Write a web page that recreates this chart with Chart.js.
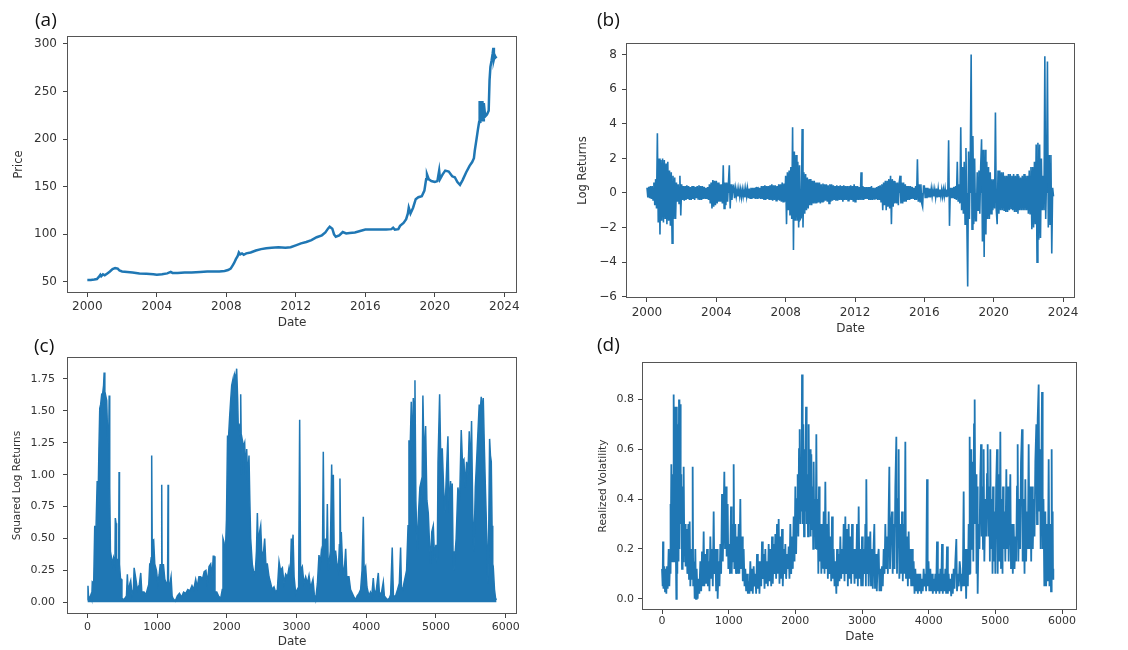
<!DOCTYPE html>
<html>
<head>
<meta charset="utf-8">
<script src="https://cdn.jsdelivr.net/npm/chart.js@4.4.1/dist/chart.umd.min.js"></script>
<style>
html, body { margin: 0; padding: 0; background: #fff; }
#wrap { position: relative; width: 1128px; height: 650px; overflow: hidden; background: #fff; }
#wrap canvas { position: absolute; left: 0; top: 0; }
.tag { position: absolute; font-family: "Open Sans", "Liberation Sans", sans-serif; font-size: 19px; line-height: 1; color: #111; }
</style>
</head>
<body>
<div id="wrap">
  <canvas id="chartA" width="1128" height="650"></canvas>
  <canvas id="chartB" width="1128" height="650"></canvas>
  <canvas id="chartC" width="1128" height="650"></canvas>
  <canvas id="chartD" width="1128" height="650"></canvas>
  <div class="tag" style="left:35px;top:10px;">(a)</div>
  <div class="tag" style="left:597px;top:10px;">(b)</div>
  <div class="tag" style="left:34px;top:336px;">(c)</div>
  <div class="tag" style="left:597px;top:335px;">(d)</div>
</div>
<script>
// (a) price
var priceDates = [
  2000.0, 2000.2, 2000.4, 2000.55, 2000.65, 2000.75, 2000.8, 2000.9, 2001.0, 2001.15,
  2001.3, 2001.45, 2001.6, 2001.75, 2001.85, 2002.0, 2002.3, 2002.6, 2003.0, 2003.4,
  2003.8, 2004.0, 2004.3, 2004.6, 2004.8, 2004.9, 2005.2, 2005.6, 2006.0, 2006.5,
  2006.9, 2007.2, 2007.6, 2007.9, 2008.1, 2008.25, 2008.35, 2008.45, 2008.55, 2008.65,
  2008.72, 2008.8, 2008.9, 2009.0, 2009.15, 2009.4, 2009.7, 2010.0, 2010.3, 2010.6,
  2011.0, 2011.4, 2011.7, 2012.0, 2012.3, 2012.6, 2012.9, 2013.2, 2013.5, 2013.7,
  2013.85, 2013.95, 2014.1, 2014.2, 2014.3, 2014.5, 2014.7, 2014.9, 2015.1, 2015.4,
  2015.7, 2016.0, 2016.4, 2016.8, 2017.2, 2017.5, 2017.6, 2017.7, 2017.9, 2018.0,
  2018.2, 2018.35, 2018.45, 2018.5, 2018.6, 2018.75, 2018.9, 2019.05, 2019.25, 2019.4,
  2019.5, 2019.55, 2019.65, 2019.8, 2020.0, 2020.15, 2020.25, 2020.3, 2020.45, 2020.6,
  2020.8, 2021.0, 2021.15, 2021.3, 2021.45, 2021.6, 2021.8, 2022.0, 2022.15, 2022.25,
  2022.3, 2022.4, 2022.48, 2022.55, 2022.58, 2022.62, 2022.66, 2022.7, 2022.74, 2022.78,
  2022.82, 2022.9, 2023.0, 2023.1, 2023.15, 2023.2, 2023.27, 2023.33, 2023.37, 2023.4,
  2023.45, 2023.5, 2023.56
];
var priceValues = [
  52, 52, 52.5, 53, 55, 57.5, 56, 58, 57, 59,
  61, 63.5, 64.5, 64, 62, 61, 60.5, 60, 59, 58.5,
  58, 57.5, 58, 59, 60.5, 59.5, 59.5, 60, 60, 60.5,
  61, 61, 61, 61.5, 62.5, 64, 67, 70, 74, 77,
  81, 79, 80, 78.5, 80, 81, 83, 84.5, 85.5, 86,
  86.5, 86, 86.5, 88.5, 90.5, 92, 94, 97, 99, 102,
  106, 108, 106, 100, 97.5, 99, 102.5, 101, 101.5, 102,
  103.5, 105, 105, 105, 105, 105.5, 107, 105, 105.5, 109,
  112, 116, 122, 128, 122, 128, 137, 139, 140, 146,
  158, 163, 158, 156, 155, 156, 167, 158, 163, 167,
  166, 161, 160, 155, 152, 157, 165, 172, 176, 180,
  188, 200, 210, 218, 240, 217, 240, 219, 240, 220,
  238, 224, 226, 230, 262, 276, 283, 290, 296, 284,
  288, 286, 287
];

// (b) log returns, one row per year
var retDates = [
  2000.00, 2000.05, 2000.10, 2000.15, 2000.20, 2000.25, 2000.30, 2000.35, 2000.40, 2000.45, 2000.50, 2000.55, 2000.60, 2000.65, 2000.70, 2000.75, 2000.80, 2000.85, 2000.90, 2000.95,
  2001.00, 2001.05, 2001.10, 2001.15, 2001.20, 2001.25, 2001.30, 2001.35, 2001.40, 2001.45, 2001.50, 2001.55, 2001.60, 2001.65, 2001.70, 2001.75, 2001.80, 2001.85, 2001.90, 2001.95,
  2002.00, 2002.05, 2002.10, 2002.15, 2002.20, 2002.25, 2002.30, 2002.35, 2002.40, 2002.45, 2002.50, 2002.55, 2002.60, 2002.65, 2002.70, 2002.75, 2002.80, 2002.85, 2002.90, 2002.95,
  2003.00, 2003.05, 2003.10, 2003.15, 2003.20, 2003.25, 2003.30, 2003.35, 2003.40, 2003.45, 2003.50, 2003.55, 2003.60, 2003.65, 2003.70, 2003.75, 2003.80, 2003.85, 2003.90, 2003.95,
  2004.00, 2004.05, 2004.10, 2004.15, 2004.20, 2004.25, 2004.30, 2004.35, 2004.40, 2004.45, 2004.50, 2004.55, 2004.60, 2004.65, 2004.70, 2004.75, 2004.80, 2004.85, 2004.90, 2004.95,
  2005.00, 2005.05, 2005.10, 2005.15, 2005.20, 2005.25, 2005.30, 2005.35, 2005.40, 2005.45, 2005.50, 2005.55, 2005.60, 2005.65, 2005.70, 2005.75, 2005.80, 2005.85, 2005.90, 2005.95,
  2006.00, 2006.05, 2006.10, 2006.15, 2006.20, 2006.25, 2006.30, 2006.35, 2006.40, 2006.45, 2006.50, 2006.55, 2006.60, 2006.65, 2006.70, 2006.75, 2006.80, 2006.85, 2006.90, 2006.95,
  2007.00, 2007.05, 2007.10, 2007.15, 2007.20, 2007.25, 2007.30, 2007.35, 2007.40, 2007.45, 2007.50, 2007.55, 2007.60, 2007.65, 2007.70, 2007.75, 2007.80, 2007.85, 2007.90, 2007.95,
  2008.00, 2008.05, 2008.10, 2008.15, 2008.20, 2008.25, 2008.30, 2008.35, 2008.40, 2008.45, 2008.50, 2008.55, 2008.60, 2008.65, 2008.70, 2008.75, 2008.80, 2008.85, 2008.90, 2008.95,
  2009.00, 2009.05, 2009.10, 2009.15, 2009.20, 2009.25, 2009.30, 2009.35, 2009.40, 2009.45, 2009.50, 2009.55, 2009.60, 2009.65, 2009.70, 2009.75, 2009.80, 2009.85, 2009.90, 2009.95,
  2010.00, 2010.05, 2010.10, 2010.15, 2010.20, 2010.25, 2010.30, 2010.35, 2010.40, 2010.45, 2010.50, 2010.55, 2010.60, 2010.65, 2010.70, 2010.75, 2010.80, 2010.85, 2010.90, 2010.95,
  2011.00, 2011.05, 2011.10, 2011.15, 2011.20, 2011.25, 2011.30, 2011.35, 2011.40, 2011.45, 2011.50, 2011.55, 2011.60, 2011.65, 2011.70, 2011.75, 2011.80, 2011.85, 2011.90, 2011.95,
  2012.00, 2012.05, 2012.10, 2012.15, 2012.20, 2012.25, 2012.30, 2012.35, 2012.40, 2012.45, 2012.50, 2012.55, 2012.60, 2012.65, 2012.70, 2012.75, 2012.80, 2012.85, 2012.90, 2012.95,
  2013.00, 2013.05, 2013.10, 2013.15, 2013.20, 2013.25, 2013.30, 2013.35, 2013.40, 2013.45, 2013.50, 2013.55, 2013.60, 2013.65, 2013.70, 2013.75, 2013.80, 2013.85, 2013.90, 2013.95,
  2014.00, 2014.05, 2014.10, 2014.15, 2014.20, 2014.25, 2014.30, 2014.35, 2014.40, 2014.45, 2014.50, 2014.55, 2014.60, 2014.65, 2014.70, 2014.75, 2014.80, 2014.85, 2014.90, 2014.95,
  2015.00, 2015.05, 2015.10, 2015.15, 2015.20, 2015.25, 2015.30, 2015.35, 2015.40, 2015.45, 2015.50, 2015.55, 2015.60, 2015.65, 2015.70, 2015.75, 2015.80, 2015.85, 2015.90, 2015.95,
  2016.00, 2016.05, 2016.10, 2016.15, 2016.20, 2016.25, 2016.30, 2016.35, 2016.40, 2016.45, 2016.50, 2016.55, 2016.60, 2016.65, 2016.70, 2016.75, 2016.80, 2016.85, 2016.90, 2016.95,
  2017.00, 2017.05, 2017.10, 2017.15, 2017.20, 2017.25, 2017.30, 2017.35, 2017.40, 2017.45, 2017.50, 2017.55, 2017.60, 2017.65, 2017.70, 2017.75, 2017.80, 2017.85, 2017.90, 2017.95,
  2018.00, 2018.05, 2018.10, 2018.15, 2018.20, 2018.25, 2018.30, 2018.35, 2018.40, 2018.45, 2018.50, 2018.55, 2018.60, 2018.65, 2018.70, 2018.75, 2018.80, 2018.85, 2018.90, 2018.95,
  2019.00, 2019.05, 2019.10, 2019.15, 2019.20, 2019.25, 2019.30, 2019.35, 2019.40, 2019.45, 2019.50, 2019.55, 2019.60, 2019.65, 2019.70, 2019.75, 2019.80, 2019.85, 2019.90, 2019.95,
  2020.00, 2020.05, 2020.10, 2020.15, 2020.20, 2020.25, 2020.30, 2020.35, 2020.40, 2020.45, 2020.50, 2020.55, 2020.60, 2020.65, 2020.70, 2020.75, 2020.80, 2020.85, 2020.90, 2020.95,
  2021.00, 2021.05, 2021.10, 2021.15, 2021.20, 2021.25, 2021.30, 2021.35, 2021.40, 2021.45, 2021.50, 2021.55, 2021.60, 2021.65, 2021.70, 2021.75, 2021.80, 2021.85, 2021.90, 2021.95,
  2022.00, 2022.05, 2022.10, 2022.15, 2022.20, 2022.25, 2022.30, 2022.35, 2022.40, 2022.45, 2022.50, 2022.55, 2022.60, 2022.65, 2022.70, 2022.75, 2022.80, 2022.85, 2022.90, 2022.95,
  2023.00, 2023.05, 2023.10, 2023.15, 2023.20, 2023.25, 2023.30, 2023.35, 2023.40, 2023.45
];
var retValues = [
  0.3, -0.25, 0.35, -0.3, 0.4, -0.35, 0.4, -0.4, 0.6, -0.7, 0.8, -0.9, 3.45, -1.7, 2.0, -2.4, 1.9, -1.6, 2.0, -1.7,
  1.9, -1.5, 1.7, -1.8, 1.8, -1.6, 1.3, -1.9, 1.2, -2.9, 1.0, -1.5, 0.9, -1.5, 0.6, -0.5, 0.5, -0.6, 1.0, -1.3,
  0.5, -0.4, 0.4, -0.45, 0.4, -0.4, 0.45, -0.35, 0.4, -0.4, 0.35, -0.4, 0.4, -0.35, 0.4, -0.4, 0.35, -0.3, 0.4, -0.35,
  0.45, -0.4, 0.4, -0.4, 0.4, -0.35, 0.35, -0.3, 0.3, -0.35, 0.35, -0.4, 0.5, -0.6, 0.6, -0.9, 0.75, -0.8, 0.7, -0.7,
  0.7, -0.6, 0.6, -0.5, 0.5, -0.5, 0.5, -0.6, 1.6, -0.9, 0.6, -0.7, 0.6, -0.5, 0.6, 1.6, -0.9, 0.5, -0.4, 0.3,
  0.4, -0.3, 0.25, -0.2, 0.2, -0.2, 0.25, -0.2, 0.2, -0.25, 0.2, -0.2, 0.2, -0.25, 0.25, -0.2, 0.25, -0.3, 0.25, -0.3,
  0.3, -0.35, 0.3, -0.3, 0.3, -0.35, 0.35, -0.3, 0.35, -0.3, 0.3, -0.35, 0.4, -0.35, 0.4, -0.4, 0.45, -0.4, 0.4, -0.35,
  0.4, -0.4, 0.45, -0.4, 0.5, -0.45, 0.45, -0.4, 0.45, -0.45, 0.4, -0.4, 0.5, -0.45, 0.5, -0.5, 0.6, -0.5, 0.55, -0.5,
  1.0, -1.8, 1.2, -1.0, 1.3, -1.3, 1.5, -1.5, 3.8, -3.3, 2.4, -1.6, 2.2, -1.6, 1.8, -2.0, 1.6, -1.5, -1.4, 3.7,
  -2.0, 1.2, -1.2, 1.1, -1.0, 0.9, -0.9, 0.8, -0.7, 0.8, -0.7, 0.7, -0.6, 0.7, -0.6, 0.6, -0.6, 0.6, -0.55, 0.6,
  -0.6, 0.5, -0.5, 0.55, -0.5, 0.5, -0.45, 0.5, -0.5, 0.45, -0.6, 0.5, -0.5, 0.5, -0.45, 0.45, -0.4, 0.4, -0.45, 0.45,
  -0.45, 0.4, -0.4, 0.45, -0.4, 0.4, -0.5, 0.45, -0.4, 0.4, -0.4, 0.4, -0.45, 0.4, -0.4, 0.45, -0.4, 0.4, -0.5, 0.5,
  -0.5, 0.4, -0.4, 0.4, -0.4, 0.35, -0.4, 1.2, -0.4, 0.4, -0.4, 0.35, -0.35, 0.35, -0.35, 0.35, -0.4, 0.35, -0.4, 0.4,
  -0.4, 0.3, -0.35, 0.3, -0.35, 0.35, -0.4, 0.4, -0.4, 0.45, -0.5, 0.5, -1.0, 0.6, -0.7, 0.7, -1.0, 0.7, -0.8, 0.8,
  -0.9, 1.0, -1.8, 0.8, -0.8, 0.7, -0.6, 0.6, -0.6, 0.6, -0.7, 0.6, 1.0, -0.6, 0.6, -0.6, 0.6, -0.5, 0.5, -0.5,
  0.4, -0.4, 0.4, -0.4, 0.4, -0.35, 0.35, -0.3, 0.3, -0.4, 0.4, -0.4, 1.95, -0.5, 0.5, -0.5, 0.5, -0.6, -0.8, 0.4,
  0.4, -0.3, 0.3, -0.3, 0.3, -0.25, 0.25, -0.25, 0.25, -0.2, 0.2, -0.2, 0.2, -0.25, 0.25, -0.25, 0.25, -0.2, 0.2, -0.2,
  0.2, -0.2, 0.2, -0.2, 0.25, -0.2, 0.2, -0.2, 3.05, -1.9, 0.3, -0.3, 0.3, -0.3, 0.35, -0.35, 0.4, -0.4, 1.8, -0.5,
  0.5, -0.6, 3.8, -1.0, 1.5, -1.2, 1.8, -1.8, 2.6, -1.5, -5.4, 2.4, -1.5, 2.0, 8.0, -2.1, 3.3, -1.8, 2.0, -1.6,
  -1.6, 1.2, -1.0, 1.3, -1.2, 1.5, 3.1, -2.8, 2.5, -3.7, 2.5, -2.4, 1.8, -1.5, 1.5, -1.5, 1.2, -1.2, 0.8, -1.0,
  0.8, -0.9, 4.65, -1.0, -1.8, 1.3, -1.2, 1.3, -1.0, 1.2, -1.0, 1.2, -1.0, 1.0, -1.1, 1.0, -1.1, 1.1, -1.0, 1.1,
  -0.9, 1.0, -1.0, 1.1, -1.1, 1.0, -1.1, 1.1, -1.2, 1.0, -1.0, 0.9, -1.0, 1.0, -1.0, 1.1, -1.0, 1.0, -1.0, 1.0,
  -1.2, 1.3, -1.2, 1.5, -2.1, 1.5, -2.0, 1.8, -1.8, 2.8, -4.0, 2.9, -2.7, 2.8, -2.6, 2.0, -1.0, 1.0, -1.0, 7.9,
  -1.5, 1.0, 7.6, -2.0, 2.2, -1.8, 2.2, -3.5, 0.3, -0.2
];

// (c) squared log returns, by day index
var sqIndex = [
  0, 8, 15, 30, 50, 62, 70, 90, 105, 115,
  125, 140, 150, 165, 177, 190, 205, 220, 232, 240,
  250, 262, 277, 290, 305, 312, 320, 330, 345, 360,
  375, 395, 400, 410, 418, 440, 448, 454, 460, 475,
  487, 495, 525, 560, 573, 585, 610, 621, 640, 660,
  670, 690, 717, 745, 765, 780, 812, 840, 860, 880,
  894, 905, 915, 922, 929, 950, 966, 990, 1010, 1030,
  1045, 1060, 1066, 1072, 1090, 1110, 1133, 1150, 1157, 1163,
  1185, 1200, 1215, 1228, 1260, 1290, 1320, 1350, 1380, 1410,
  1440, 1470, 1500, 1525, 1553, 1575, 1600, 1625, 1650, 1675,
  1700, 1720, 1745, 1769, 1790, 1805, 1816, 1830, 1855, 1880,
  1912, 1935, 1945, 1960, 1975, 1983, 1995, 2010, 2025, 2040,
  2055, 2070, 2089, 2100, 2113, 2128, 2141, 2155, 2165, 2175,
  2190, 2199, 2212, 2223, 2240, 2256, 2270, 2285, 2300, 2318,
  2330, 2342, 2365, 2390, 2410, 2425, 2438, 2450, 2470, 2486,
  2500, 2520, 2543, 2560, 2581, 2605, 2629, 2650, 2677, 2700,
  2725, 2749, 2770, 2797, 2820, 2844, 2870, 2892, 2910, 2925,
  2937, 2950, 2965, 2988, 3010, 3030, 3045, 3058, 3083, 3105,
  3131, 3155, 3179, 3200, 3220, 3236, 3255, 3274, 3300, 3322,
  3340, 3356, 3372, 3384, 3396, 3418, 3430, 3442, 3455, 3466,
  3485, 3504, 3516, 3528, 3540, 3561, 3580, 3600, 3615, 3623,
  3632, 3642, 3660, 3680, 3705, 3720, 3752, 3775, 3800, 3825,
  3848, 3870, 3896, 3920, 3940, 3958, 3970, 3991, 4010, 4039,
  4060, 4080, 4101, 4120, 4145, 4173, 4190, 4220, 4245, 4260,
  4302, 4330, 4350, 4373, 4390, 4421, 4450, 4475, 4493, 4505,
  4525, 4541, 4560, 4579, 4600, 4613, 4630, 4646, 4660, 4675,
  4690, 4699, 4712, 4732, 4750, 4770, 4790, 4800, 4813, 4830,
  4852, 4870, 4890, 4905, 4923, 4940, 4962, 4980, 5000, 5019,
  5030, 5053, 5070, 5080, 5091, 5110, 5129, 5150, 5172, 5190,
  5210, 5222, 5234, 5245, 5258, 5290, 5315, 5340, 5363, 5380,
  5401, 5420, 5440, 5460, 5478, 5495, 5511, 5528, 5545, 5565,
  5583, 5600, 5621, 5635, 5650, 5665, 5679, 5695, 5712, 5730,
  5746, 5758, 5770, 5782, 5794, 5805, 5815, 5822, 5840, 5856,
  5870
];
var sqValues = [
  0.02, 0.13, 0.05, 0.03, 0.06, 0.03, 0.16, 0.15, 0.6, 0.3,
  0.62, 0.95, 0.7, 1.2, 1.52, 1.55, 1.63, 1.64, 1.7, 1.8,
  1.55, 1.62, 1.58, 1.3, 1.25, 1.62, 0.9, 0.4, 0.35, 0.3,
  0.35, 0.3, 0.66, 0.62, 0.34, 0.33, 0.34, 1.02, 0.3, 0.18,
  0.18, 0.03, 0.02, 0.05, 0.22, 0.08, 0.15, 0.17, 0.06, 0.1,
  0.27, 0.2, 0.1, 0.14, 0.23, 0.08, 0.08, 0.06, 0.1, 0.14,
  0.3, 0.3, 0.35, 1.15, 0.48, 0.49, 0.3, 0.25, 0.15, 0.22,
  0.3, 0.2, 0.92, 0.2, 0.3, 0.18, 0.15, 0.15, 0.92, 0.15,
  0.15, 0.2, 0.05, 0.03, 0.01, 0.05, 0.07, 0.04, 0.08, 0.07,
  0.1, 0.09, 0.13, 0.1, 0.18, 0.12, 0.2, 0.2, 0.18, 0.24,
  0.25, 0.15, 0.28, 0.3, 0.2, 0.36, 0.36, 0.08, 0.08, 0.05,
  0.03, 0.1, 0.5, 0.47, 0.3, 0.45, 0.65, 1.3, 1.3, 1.45,
  1.58, 1.7, 1.75, 1.6, 1.78, 1.75, 1.83, 1.6, 1.35, 1.4,
  1.3, 1.63, 1.0, 1.27, 1.22, 1.25, 1.0, 1.2, 0.95, 1.15,
  0.8, 0.5, 0.3, 0.22, 0.25, 0.4, 0.7, 0.45, 0.55, 0.6,
  0.4, 0.35, 0.5, 0.3, 0.3, 0.2, 0.15, 0.1, 0.12, 0.08,
  0.1, 0.32, 0.25, 0.27, 0.15, 0.22, 0.2, 0.27, 0.2, 0.5,
  0.4, 0.53, 0.2, 0.07, 0.1, 0.12, 1.43, 0.25, 0.28, 0.15,
  0.2, 0.15, 0.21, 0.12, 0.15, 0.18, 0.06, 0.02, 0.15, 0.37,
  0.3, 0.4, 0.35, 1.18, 0.4, 0.5, 0.35, 0.77, 0.25, 0.3,
  0.4, 1.08, 0.6, 1.0, 0.4, 0.4, 0.3, 0.25, 0.45, 0.97,
  0.5, 0.55, 0.3, 0.2, 0.42, 0.2, 0.2, 0.1, 0.07, 0.04,
  0.02, 0.05, 0.07, 0.1, 0.25, 0.67, 0.25, 0.28, 0.12, 0.05,
  0.08, 0.05, 0.19, 0.06, 0.1, 0.23, 0.06, 0.08, 0.16, 0.05,
  0.02, 0.03, 0.06, 0.43, 0.05, 0.05, 0.1, 0.15, 0.43, 0.12,
  0.1, 0.15, 0.2, 0.25, 0.6, 1.27, 1.2, 1.57, 1.1, 1.6,
  1.4, 1.74, 0.8, 0.4, 0.7, 0.9, 0.95, 0.8, 1.62, 1.1,
  1.38, 0.8, 0.7, 0.5, 0.3, 0.55, 0.6, 0.35, 0.45, 0.3,
  1.1, 1.63, 1.1, 1.2, 1.2, 0.9, 0.7, 1.0, 1.3, 0.7,
  0.95, 0.6, 0.93, 0.4, 0.25, 0.5, 0.9, 0.8, 1.35, 1.1,
  1.12, 0.9, 1.1, 1.0, 1.34, 1.0, 1.42, 0.7, 0.4, 0.9,
  1.1, 1.3, 1.55, 1.5, 1.61, 1.5, 1.6, 1.2, 0.85, 0.5,
  0.15, 0.6, 1.28, 1.15, 1.1, 0.6, 0.3, 0.28, 0.1, 0.03,
  0.02
];

// (d) realized volatility, by day index
var volIndex = [
  0, 10, 15, 22, 35, 45, 55, 65, 75, 85,
  100, 110, 120, 125, 132, 140, 150, 160, 168, 175,
  185, 192, 200, 207, 215, 222, 230, 240, 248, 255,
  262, 270, 280, 290, 300, 310, 318, 325, 335, 345,
  355, 370, 380, 395, 405, 415, 425, 440, 452, 460,
  468, 480, 490, 500, 510, 520, 535, 545, 560, 575,
  588, 600, 612, 625, 635, 650, 662, 675, 688, 700,
  712, 725, 738, 750, 762, 775, 785, 800, 812, 825,
  835, 850, 862, 875, 887, 900, 912, 925, 935, 945,
  960, 970, 985, 995, 1010, 1020, 1035, 1045, 1060, 1068,
  1075, 1085, 1100, 1110, 1125, 1135, 1150, 1160, 1175, 1185,
  1200, 1212, 1225, 1238, 1250, 1262, 1275, 1288, 1300, 1312,
  1325, 1338, 1350, 1362, 1375, 1388, 1400, 1412, 1425, 1438,
  1450, 1462, 1475, 1488, 1500, 1512, 1525, 1538, 1550, 1562,
  1575, 1588, 1600, 1612, 1625, 1638, 1650, 1662, 1675, 1688,
  1700, 1712, 1725, 1738, 1750, 1762, 1775, 1788, 1800, 1812,
  1825, 1838, 1850, 1862, 1875, 1888, 1900, 1912, 1925, 1938,
  1950, 1962, 1975, 1988, 2000, 2012, 2025, 2035, 2045, 2055,
  2065, 2075, 2085, 2092, 2100, 2110, 2120, 2130, 2140, 2150,
  2160, 2170, 2180, 2190, 2200, 2210, 2220, 2230, 2240, 2250,
  2260, 2268, 2275, 2285, 2295, 2305, 2315, 2325, 2335, 2345,
  2355, 2365, 2380, 2390, 2400, 2412, 2425, 2438, 2450, 2462,
  2475, 2488, 2500, 2512, 2525, 2538, 2550, 2562, 2575, 2588,
  2600, 2615, 2625, 2638, 2650, 2662, 2675, 2688, 2700, 2712,
  2725, 2738, 2750, 2762, 2775, 2788, 2800, 2812, 2825, 2838,
  2850, 2862, 2875, 2888, 2900, 2912, 2925, 2938, 2950, 2962,
  2975, 2988, 3000, 3012, 3025, 3040, 3050, 3058, 3065, 3075,
  3090, 3100, 3115, 3125, 3135, 3150, 3162, 3175, 3185, 3195,
  3210, 3222, 3235, 3250, 3262, 3275, 3288, 3300, 3312, 3325,
  3338, 3350, 3362, 3375, 3388, 3400, 3410, 3420, 3435, 3450,
  3460, 3475, 3488, 3500, 3515, 3525, 3540, 3550, 3560, 3575,
  3588, 3600, 3612, 3625, 3638, 3650, 3660, 3675, 3688, 3700,
  3712, 3725, 3738, 3750, 3762, 3775, 3788, 3800, 3812, 3825,
  3838, 3850, 3862, 3875, 3888, 3900, 3912, 3925, 3938, 3950,
  3962, 3975, 3985, 3998, 4010, 4025, 4038, 4050, 4062, 4075,
  4088, 4100, 4112, 4125, 4138, 4150, 4162, 4175, 4188, 4200,
  4212, 4225, 4238, 4250, 4262, 4275, 4288, 4300, 4312, 4325,
  4338, 4350, 4362, 4375, 4388, 4400, 4415, 4425, 4440, 4452,
  4465, 4475, 4488, 4500, 4512, 4525, 4535, 4550, 4562, 4575,
  4588, 4600, 4608, 4615, 4625, 4640, 4650, 4660, 4670, 4680,
  4690, 4700, 4710, 4718, 4725, 4735, 4750, 4762, 4775, 4785,
  4795, 4805, 4815, 4825, 4835, 4850, 4862, 4875, 4885, 4895,
  4910, 4918, 4925, 4935, 4950, 4958, 4965, 4975, 4990, 5000,
  5012, 5025, 5035, 5050, 5062, 5075, 5085, 5100, 5108, 5115,
  5125, 5140, 5150, 5165, 5175, 5190, 5200, 5215, 5225, 5235,
  5250, 5262, 5275, 5288, 5300, 5312, 5325, 5335, 5345, 5360,
  5372, 5385, 5400, 5410, 5425, 5438, 5450, 5462, 5475, 5488,
  5500, 5512, 5525, 5538, 5550, 5562, 5575, 5588, 5600, 5615,
  5625, 5635, 5650, 5660, 5670, 5680, 5690, 5700, 5710, 5722,
  5735, 5750, 5762, 5775, 5788, 5800, 5812, 5825, 5835, 5845,
  5852, 5860, 5865, 5870
];
var volValues = [
  0.12, 0.05, 0.23, 0.04, 0.13, 0.03, 0.12, 0.02, 0.13, 0.04,
  0.2, 0.05, 0.15, 0.38, 0.1, 0.54, 0.15, 0.5, 0.2, 0.82,
  0.15, 0.6, 0.77, 0.22, 0.0, 0.77, 0.1, 0.7, 0.15, 0.8,
  0.2, 0.78, 0.3, 0.5, 0.12, 0.45, 0.15, 0.53, 0.18, 0.3,
  0.13, 0.28, 0.1, 0.3, 0.08, 0.31, 0.05, 0.2, 0.08, 0.53,
  0.05, 0.15, 0.0, 0.2, 0.0, 0.12, 0.0, 0.08, 0.02, 0.15,
  0.03, 0.19, 0.05, 0.27, 0.05, 0.18, 0.06, 0.2, 0.05, 0.15,
  0.03, 0.25, 0.08, 0.2, 0.05, 0.35, 0.1, 0.2, 0.03, 0.2,
  0.0, 0.15, 0.05, 0.22, 0.1, 0.42, 0.15, 0.35, 0.51, 0.2,
  0.45, 0.17, 0.38, 0.12, 0.22, 0.1, 0.37, 0.1, 0.3, 0.15,
  0.54, 0.12, 0.3, 0.1, 0.25, 0.1, 0.3, 0.1, 0.4, 0.12,
  0.25, 0.07, 0.2, 0.05, 0.12, 0.03, 0.1, 0.02, 0.07, 0.02,
  0.15, 0.03, 0.12, 0.02, 0.13, 0.05, 0.1, 0.02, 0.18, 0.04,
  0.15, 0.02, 0.15, 0.05, 0.23, 0.08, 0.18, 0.04, 0.2, 0.06,
  0.15, 0.05, 0.22, 0.07, 0.2, 0.05, 0.25, 0.06, 0.22, 0.1,
  0.26, 0.08, 0.3, 0.1, 0.32, 0.06, 0.25, 0.08, 0.28, 0.05,
  0.2, 0.1, 0.22, 0.08, 0.18, 0.12, 0.21, 0.08, 0.3, 0.1,
  0.25, 0.12, 0.33, 0.15, 0.45, 0.18, 0.4, 0.5, 0.25, 0.6,
  0.68, 0.3, 0.55, 0.35, 0.9, 0.3, 0.7, 0.25, 0.6, 0.35,
  0.77, 0.3, 0.5, 0.25, 0.7, 0.3, 0.6, 0.25, 0.58, 0.28,
  0.45, 0.2, 0.55, 0.25, 0.4, 0.2, 0.66, 0.2, 0.4, 0.1,
  0.45, 0.15, 0.3, 0.1, 0.3, 0.12, 0.35, 0.1, 0.47, 0.12,
  0.3, 0.08, 0.35, 0.1, 0.25, 0.07, 0.33, 0.08, 0.2, 0.05,
  0.15, 0.02, 0.2, 0.05, 0.18, 0.07, 0.25, 0.08, 0.2, 0.1,
  0.3, 0.07, 0.33, 0.1, 0.28, 0.05, 0.3, 0.08, 0.25, 0.06,
  0.3, 0.1, 0.2, 0.06, 0.2, 0.08, 0.3, 0.05, 0.37, 0.08,
  0.2, 0.05, 0.25, 0.05, 0.2, 0.1, 0.3, 0.05, 0.48, 0.1,
  0.25, 0.05, 0.2, 0.27, 0.05, 0.2, 0.04, 0.22, 0.3, 0.04,
  0.18, 0.03, 0.15, 0.2, 0.03, 0.12, 0.03, 0.13, 0.05, 0.2,
  0.1, 0.3, 0.12, 0.25, 0.1, 0.35, 0.53, 0.12, 0.3, 0.35,
  0.1, 0.3, 0.12, 0.45, 0.65, 0.1, 0.4, 0.6, 0.08, 0.3,
  0.1, 0.35, 0.07, 0.3, 0.1, 0.63, 0.08, 0.25, 0.05, 0.27,
  0.08, 0.2, 0.05, 0.2, 0.05, 0.15, 0.02, 0.12, 0.03, 0.1,
  0.02, 0.1, 0.03, 0.1, 0.02, 0.08, 0.03, 0.12, 0.05, 0.1,
  0.03, 0.48, 0.05, 0.15, 0.03, 0.12, 0.03, 0.1, 0.02, 0.08,
  0.03, 0.1, 0.02, 0.23, 0.03, 0.1, 0.02, 0.12, 0.03, 0.22,
  0.02, 0.1, 0.03, 0.12, 0.02, 0.21, 0.02, 0.1, 0.03, 0.08,
  0.01, 0.1, 0.02, 0.12, 0.04, 0.15, 0.24, 0.03, 0.1, 0.05,
  0.15, 0.12, 0.03, 0.1, 0.05, 0.43, 0.05, 0.2, 0.0, 0.2,
  0.05, 0.3, 0.1, 0.65, 0.1, 0.6, 0.2, 0.55, 0.15, 0.7,
  0.8, 0.3, 0.5, 0.1, 0.45, 0.02, 0.3, 0.2, 0.5, 0.62,
  0.25, 0.45, 0.2, 0.6, 0.15, 0.4, 0.25, 0.5, 0.62, 0.25,
  0.45, 0.15, 0.6, 0.2, 0.4, 0.1, 0.45, 0.15, 0.35, 0.1,
  0.45, 0.6, 0.1, 0.5, 0.15, 0.67, 0.12, 0.4, 0.1, 0.45,
  0.2, 0.35, 0.15, 0.52, 0.2, 0.45, 0.15, 0.35, 0.5, 0.12,
  0.3, 0.1, 0.3, 0.12, 0.25, 0.15, 0.45, 0.62, 0.15, 0.4,
  0.2, 0.55, 0.68, 0.15, 0.4, 0.1, 0.48, 0.15, 0.35, 0.2,
  0.62, 0.2, 0.45, 0.15, 0.45, 0.2, 0.4, 0.25, 0.55, 0.7,
  0.3, 0.72, 0.86, 0.35, 0.6, 0.2, 0.5, 0.83, 0.2, 0.4,
  0.05, 0.35, 0.05, 0.3, 0.07, 0.56, 0.05, 0.3, 0.03, 0.6,
  0.1, 0.35, 0.08, 0.12
];

// tick values
var yearTicks = [2000, 2004, 2008, 2012, 2016, 2020, 2024];
var priceTicks = [50, 100, 150, 200, 250, 300];
var retTicks = [-6, -4, -2, 0, 2, 4, 6, 8];
var indexTicks = [0, 1000, 2000, 3000, 4000, 5000, 6000];
var sqTicks = [0, 0.25, 0.5, 0.75, 1, 1.25, 1.5, 1.75];
var volTicks = [0, 0.2, 0.4, 0.6, 0.8];

var FONT = '"DejaVu Sans", Verdana, sans-serif';
var BLUE = '#1f77b4';

function pts(xs, ys) {
  return xs.map(function(x, i) { return {x: x, y: ys[i]}; });
}

// axes box, drawn like the four spines
var frame = {
  id: 'frame',
  afterDatasetsDraw: function(chart) {
    var a = chart.chartArea, ctx = chart.ctx;
    ctx.save();
    ctx.strokeStyle = '#555';
    ctx.lineWidth = 1;
    ctx.strokeRect(Math.round(a.left) + 0.5, Math.round(a.top) + 0.5,
      Math.round(a.right - a.left) - 1, Math.round(a.bottom - a.top) - 1);
    ctx.restore();
  }
};

function axis(o) {
  return {
    type: 'linear',
    position: o.pos,
    min: o.min,
    max: o.max,
    afterBuildTicks: function(s) { s.ticks = o.ticks.map(function(v) { return {value: v}; }); },
    afterFit: function(s) { if (o.pos === 'bottom') s.height = o.size; else s.width = o.size; },
    ticks: {
      autoSkip: false, maxRotation: 0, padding: o.pad, color: '#333',
      font: {family: FONT, size: o.font},
      callback: o.fmt
    },
    grid: { drawOnChartArea: false, drawTicks: true, tickLength: 4, tickColor: '#444', tickWidth: 1 },
    border: { display: false },
    title: { display: true, text: o.title, color: '#333', padding: 0, font: {family: FONT, size: o.titleFont} }
  };
}

function panel(id, box, xa, ya, ds) {
  new Chart(document.getElementById(id), {
    type: 'line',
    data: { datasets: [ds] },
    options: {
      responsive: false,
      animation: false,
      events: [],
      layout: { padding: { left: box.l - ya.size, top: box.t, right: 1128 - box.r, bottom: 650 - box.b - xa.size } },
      plugins: { legend: { display: false }, tooltip: { enabled: false } },
      scales: { x: axis(xa), y: axis(ya) }
    },
    plugins: [frame]
  });
}

function plain(v) { return String(v); }
function minus(v) { return String(v).replace('-', '\u2212'); }

panel('chartA', {l: 67, t: 36, r: 517, b: 293},
  {pos: 'bottom', min: 1998.83, max: 2024.73, ticks: yearTicks, fmt: plain, font: 12, pad: 3, size: 37, title: 'Date', titleFont: 12},
  {pos: 'left', min: 38.4, max: 308.4, ticks: priceTicks, fmt: plain, font: 12, pad: 6, size: 55, title: 'Price', titleFont: 11.5},
  {data: pts(priceDates, priceValues), borderColor: BLUE, borderWidth: 2.5, pointRadius: 0, tension: 0, fill: false});

panel('chartB', {l: 626, t: 43, r: 1075, b: 298},
  {pos: 'bottom', min: 1998.79, max: 2024.69, ticks: yearTicks, fmt: plain, font: 12, pad: 4, size: 38, title: 'Date', titleFont: 12},
  {pos: 'left', min: -6.07, max: 8.67, ticks: retTicks, fmt: minus, font: 12, pad: 5, size: 50, title: 'Log Returns', titleFont: 11.5},
  {data: pts(retDates, retValues), borderColor: BLUE, backgroundColor: BLUE, borderWidth: 1.6, pointRadius: 0, tension: 0, fill: 'origin'});

panel('chartC', {l: 67, t: 357, r: 517, b: 614},
  {pos: 'bottom', min: -293, max: 6163, ticks: indexTicks, fmt: plain, font: 11, pad: 3, size: 35, title: 'Date', titleFont: 12},
  {pos: 'left', min: -0.0915, max: 1.9215, ticks: sqTicks, fmt: function(v) { return Number(v).toFixed(2); }, font: 11, pad: 8, size: 56, title: 'Squared Log Returns', titleFont: 10.5},
  {data: pts(sqIndex, sqValues), borderColor: BLUE, backgroundColor: BLUE, borderWidth: 1.5, pointRadius: 0, tension: 0, fill: 'origin'});

panel('chartD', {l: 642, t: 362, r: 1077, b: 610},
  {pos: 'bottom', min: -300, max: 6225, ticks: indexTicks, fmt: plain, font: 11, pad: 1, size: 34, title: 'Date', titleFont: 12},
  {pos: 'left', min: -0.045, max: 0.95, ticks: volTicks, fmt: function(v) { return Number(v).toFixed(1); }, font: 11, pad: 4, size: 45, title: 'Realized Volatility', titleFont: 10.5},
  {data: pts(volIndex, volValues), borderColor: BLUE, borderWidth: 1.8, pointRadius: 0, tension: 0, fill: false});
</script>
</body>
</html>
